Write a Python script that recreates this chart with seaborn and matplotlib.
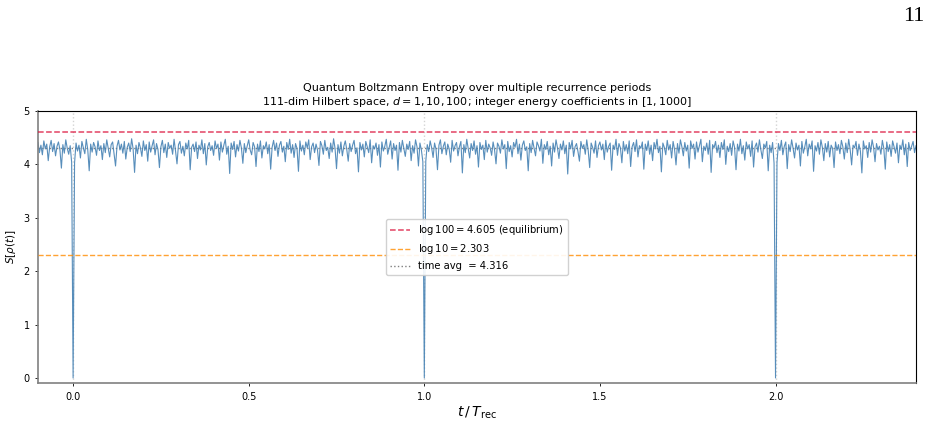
import numpy as np
import seaborn as sns
import matplotlib.pyplot as plt

# time grid t / T_rec
T_START, T_STOP = -0.1, 2.4

# entropy values, 24 per row (recurrences at t = 0, 1, 2 drop to 0)
S_VALS = [
    4.41, 4.22, 4.36, 4.18, 4.44, 4.29, 4.38, 4.07, 4.33, 4.45, 4.24, 4.39, 4.16, 4.34, 4.42, 4.27, 3.93, 4.37, 4.21, 4.46, 4.30, 4.19, 4.35, 4.04,
    0.00, 4.03, 4.40, 4.25, 4.36, 4.12, 4.43, 4.31, 4.20, 4.47, 4.28, 3.88, 4.38, 4.23, 4.41, 4.33, 4.17, 4.44, 4.26, 4.35, 4.09, 4.39, 4.22, 4.46,
    4.30, 4.14, 4.37, 4.42, 4.19, 3.97, 4.34, 4.45, 4.27, 4.38, 4.21, 4.43, 4.10, 4.32, 4.40, 4.24, 4.48, 4.29, 3.85, 4.36, 4.20, 4.41, 4.31, 4.15,
    4.44, 4.26, 4.37, 4.06, 4.42, 4.23, 4.35, 4.46, 4.18, 4.39, 4.28, 3.94, 4.33, 4.45, 4.22, 4.38, 4.13, 4.41, 4.30, 4.36, 4.19, 4.47, 4.25, 4.01,
    4.37, 4.43, 4.21, 4.34, 4.16, 4.40, 4.29, 4.45, 3.90, 4.32, 4.38, 4.24, 4.42, 4.11, 4.36, 4.27, 4.46, 4.20, 4.39, 3.99, 4.33, 4.41, 4.26, 4.35,
    4.17, 4.44, 4.30, 4.38, 4.08, 4.42, 4.23, 4.36, 4.47, 4.19, 4.34, 3.83, 4.40, 4.28, 4.43, 4.14, 4.37, 4.25, 4.45, 4.31, 4.02, 4.39, 4.22, 4.35,
    4.46, 4.27, 4.18, 4.41, 4.33, 3.96, 4.38, 4.24, 4.44, 4.12, 4.35, 4.29, 4.42, 4.20, 4.37, 3.91, 4.32, 4.45, 4.26, 4.40, 4.15, 4.36, 4.43, 4.23,
    4.34, 4.05, 4.41, 4.28, 4.47, 4.21, 4.37, 4.13, 4.39, 4.30, 3.87, 4.44, 4.25, 4.36, 4.18, 4.42, 4.31, 4.46, 4.09, 4.33, 4.40, 4.22, 4.38, 4.27,
    3.98, 4.43, 4.35, 4.19, 4.45, 4.26, 4.32, 4.11, 4.40, 4.23, 4.48, 4.30, 3.92, 4.37, 4.21, 4.42, 4.16, 4.34, 4.44, 4.28, 4.06, 4.39, 4.24, 4.36,
    4.45, 4.20, 4.31, 3.86, 4.41, 4.27, 4.38, 4.14, 4.43, 4.33, 4.22, 4.46, 4.03, 4.35, 4.29, 4.40, 4.17, 4.37, 3.95, 4.42, 4.25, 4.34, 4.47, 4.19,
    4.32, 4.44, 4.10, 4.39, 4.26, 4.36, 3.89, 4.41, 4.23, 4.45, 4.30, 4.15, 4.38, 4.28, 4.43, 4.07, 4.35, 4.21, 4.46, 4.33, 3.97, 4.40, 4.27, 4.05,
    0.00, 4.06, 4.37, 4.24, 4.44, 4.31, 4.13, 4.40, 4.28, 3.90, 4.36, 4.46, 4.20, 4.34, 4.42, 4.18, 4.38, 4.29, 4.04, 4.45, 4.25, 4.35, 4.41, 4.16,
    4.33, 4.43, 3.84, 4.37, 4.22, 4.47, 4.30, 4.12, 4.39, 4.26, 4.44, 4.19, 4.35, 3.95, 4.41, 4.28, 4.36, 4.09, 4.45, 4.23, 4.38, 4.31, 4.17, 4.42,
    4.27, 4.01, 4.40, 4.34, 4.21, 4.46, 4.29, 4.37, 3.92, 4.43, 4.24, 4.35, 4.14, 4.41, 4.32, 4.47, 4.20, 4.38, 4.08, 4.36, 4.44, 4.26, 4.33, 3.88,
    4.39, 4.22, 4.45, 4.30, 4.16, 4.42, 4.35, 4.25, 4.47, 4.02, 4.37, 4.28, 4.43, 4.18, 4.34, 3.97, 4.40, 4.23, 4.46, 4.31, 4.11, 4.38, 4.27, 4.44,
    4.20, 4.36, 3.82, 4.41, 4.29, 4.45, 4.15, 4.33, 4.39, 4.24, 4.06, 4.43, 4.30, 4.37, 4.19, 4.46, 4.26, 3.94, 4.40, 4.32, 4.21, 4.44, 4.13, 4.35,
    4.42, 4.27, 4.38, 4.09, 4.45, 4.23, 4.34, 4.40, 3.89, 4.36, 4.28, 4.47, 4.17, 4.39, 4.31, 4.03, 4.43, 4.25, 4.37, 4.20, 4.44, 3.96, 4.33, 4.41,
    4.24, 4.46, 4.14, 4.35, 4.30, 4.42, 3.91, 4.38, 4.26, 4.44, 4.19, 4.36, 4.07, 4.41, 4.29, 4.47, 4.22, 4.34, 3.86, 4.40, 4.32, 4.18, 4.45, 4.27,
    4.37, 4.12, 4.43, 4.28, 3.99, 4.39, 4.21, 4.46, 4.33, 4.16, 4.41, 4.25, 4.36, 3.93, 4.44, 4.30, 4.38, 4.10, 4.42, 4.23, 4.35, 4.47, 4.05, 4.34,
    4.26, 4.40, 4.19, 4.45, 3.85, 4.37, 4.31, 4.43, 4.22, 4.36, 4.13, 4.41, 4.28, 4.46, 4.00, 4.34, 4.24, 4.39, 4.17, 4.44, 4.32, 3.90, 4.38, 4.25,
    4.47, 4.20, 4.35, 4.08, 4.42, 4.29, 4.37, 4.15, 4.44, 3.95, 4.33, 4.40, 4.23, 4.46, 4.27, 4.11, 4.38, 4.31, 4.43, 3.88, 4.36, 4.22, 4.41, 4.02,
    0.00, 4.04, 4.39, 4.26, 4.45, 4.18, 4.34, 4.42, 3.92, 4.37, 4.24, 4.46, 4.30, 4.12, 4.40, 4.27, 4.36, 3.97, 4.43, 4.21, 4.33, 4.47, 4.16, 4.38,
    4.29, 4.44, 3.87, 4.35, 4.25, 4.41, 4.19, 4.46, 4.32, 4.07, 4.39, 4.23, 4.43, 4.14, 4.36, 4.30, 3.94, 4.42, 4.26, 4.37, 4.20, 4.45, 4.33, 4.10,
    4.40, 4.22, 4.47, 4.28, 3.99, 4.36, 4.31, 4.43, 4.17, 4.38, 4.25, 3.84, 4.44, 4.29, 4.35, 4.13, 4.41, 4.23, 4.46, 4.32, 4.05, 4.39, 4.27, 4.34,
    4.19, 4.45, 4.30, 3.91, 4.42, 4.24, 4.37, 4.15, 4.44, 4.33, 4.21, 4.40, 4.03, 4.36, 4.28, 4.46, 4.18, 4.38, 3.96, 4.41, 4.26, 4.34, 4.43, 4.22,
    4.35,
]

RECURRENCES = [0, 1, 2]
S_EQ = 4.605      # log 100
S_D10 = 2.303     # log 10
S_AVG = 4.316     # time average

t = np.linspace(T_START, T_STOP, len(S_VALS))

fig = plt.figure(figsize=(9.31, 4.23), dpi=100)
ax = fig.add_axes([0.0408, 0.0939, 0.9431, 0.6437])

for r in RECURRENCES:
    ax.axvline(r, color="lightgray", ls=":", lw=1, zorder=0)

ax.axhline(S_AVG, color="gray", ls=":", lw=1, zorder=1,
           label=f"time avg  = {S_AVG:.3f}")
sns.lineplot(x=t, y=S_VALS, ax=ax, color="steelblue", lw=0.8, alpha=0.9,
             estimator=None, zorder=2)
ax.axhline(S_EQ, color="crimson", ls="--", lw=1.1, alpha=0.8, zorder=3,
           label=r"$\log 100 = $" + f"{S_EQ:.3f} (equilibrium)")
ax.axhline(S_D10, color="darkorange", ls="--", lw=1.0, alpha=0.8, zorder=3,
           label=r"$\log 10 = $" + f"{S_D10:.3f}")

handles, labels = ax.get_legend_handles_labels()
order = [1, 2, 0]
ax.legend([handles[i] for i in order], [labels[i] for i in order],
          loc="center", fontsize=7.2, framealpha=0.9)

ax.set_xlim(-0.1, 2.4)
ax.set_ylim(-0.1, 5)
ax.set_xticks([0, 0.5, 1.0, 1.5, 2.0])
ax.tick_params(labelsize=7, length=2.5, width=0.6)
ax.set_xlabel(r"$t\,/\,T_{\rm rec}$", fontsize=10, labelpad=2)
ax.set_ylabel(r"$S[\rho(t)]$", fontsize=7.5, labelpad=4)
ax.set_title("Quantum Boltzmann Entropy over multiple recurrence periods\n"
             r"111-dim Hilbert space, $d = 1, 10, 100$; integer energy coefficients in $[1, 1000]$",
             fontsize=8, pad=4)

for side in ["top", "right"]:
    ax.spines[side].set_linewidth(0.8)
for side in ["left", "bottom"]:
    ax.spines[side].set_color("#808080")
    ax.spines[side].set_linewidth(1.2)

fig.text(0.9925, 0.950, "11", ha="right", va="baseline",
         family=["Liberation Serif", "DejaVu Serif"], fontsize=16)

fig.savefig("out.png", dpi=100)
